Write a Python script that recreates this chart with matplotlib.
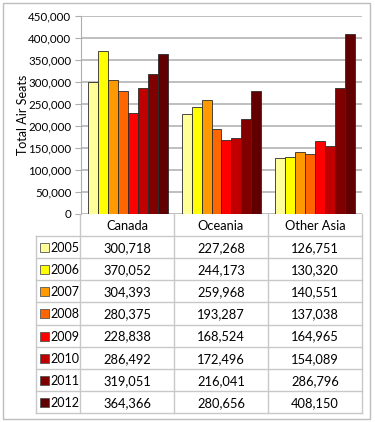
import matplotlib.pyplot as plt
from matplotlib.patches import Rectangle
import numpy as np

regions = ['Canada', 'Oceania', 'Other Asia']
years = ['2005', '2006', '2007', '2008', '2009', '2010', '2011', '2012']
seats = {
    '2005': [300718, 227268, 126751],
    '2006': [370052, 244173, 130320],
    '2007': [304393, 259968, 140551],
    '2008': [280375, 193287, 137038],
    '2009': [228838, 168524, 164965],
    '2010': [286492, 172496, 154089],
    '2011': [319051, 216041, 286796],
    '2012': [364366, 280656, 408150],
}
colors = ['#FFFF99', '#FFFF00', '#FF9900', '#FF6600',
          '#FF0000', '#C00000', '#800000', '#600000']
yticks = list(range(0, 450001, 50000))

plt.rcParams['font.family'] = ['Lato', 'DejaVu Sans']

W, H = 375, 422
fig = plt.figure(figsize=(W / 100, H / 100), dpi=100)

# pixel layout
left, right, top, bottom = 81, 362, 16, 214
tab_left, tab_bottom = 36, 413
grid_c = '#C8C8C8'

ax = fig.add_axes([left / W, 1 - bottom / H, (right - left) / W, (bottom - top) / H])
x = np.arange(len(regions))
bw = 0.85 / len(years)
for i, y in enumerate(years):
    ax.bar(x - 0.425 + bw * (i + 0.5), seats[y], bw, color=colors[i],
           edgecolor='#2b2b2b', linewidth=0.6, zorder=3)
ax.set_xlim(-0.5, 2.5)
ax.set_ylim(0, 450000)
ax.set_yticks(yticks)
ax.set_yticklabels([f'{v:,}' for v in yticks], fontsize=8.3)
ax.set_xticks([])
ax.yaxis.grid(True, color='#ADADAD', linewidth=1.1, zorder=0)
ax.tick_params(axis='y', length=4, color='#ADADAD', pad=3)
for s in ['top', 'right', 'bottom']:
    ax.spines[s].set_visible(False)
ax.spines['left'].set_color('#ADADAD')
ax.set_ylabel('Total Air Seats', fontsize=9)
ax.yaxis.set_label_coords((29 - left) / (right - left), 0.5)

# data table
tax = fig.add_axes([tab_left / W, 1 - tab_bottom / H,
                    (right - tab_left) / W, (tab_bottom - bottom) / H])
tax.set_xlim(tab_left, right)
tax.set_ylim(tab_bottom, bottom)
tax.axis('off')
col_edges = np.linspace(left - 1, right, len(regions) + 1)
row_edges = np.linspace(236, tab_bottom, len(years) + 1)
for cx in col_edges:
    tax.plot([cx, cx], [bottom, tab_bottom], color=grid_c, lw=1, clip_on=False)
tax.plot([tab_left, tab_left], [row_edges[0], tab_bottom], color=grid_c, lw=1, clip_on=False)
for ry in row_edges:
    tax.plot([tab_left, right], [ry, ry], color=grid_c, lw=1, clip_on=False)
for j, r in enumerate(regions):
    tax.text((col_edges[j] + col_edges[j + 1]) / 2, (bottom + row_edges[0]) / 2 + 1, r,
             ha='center', va='center', fontsize=9.3)
for i, y in enumerate(years):
    cy = (row_edges[i] + row_edges[i + 1]) / 2 + 1
    tax.add_patch(Rectangle((39.5, cy - 5), 9, 9, facecolor=colors[i],
                            edgecolor='#555555', lw=0.6, clip_on=False))
    tax.text(50.5, cy, y, ha='left', va='center', fontsize=9)
    for j in range(len(regions)):
        tax.text((col_edges[j] + col_edges[j + 1]) / 2, cy, f'{seats[y][j]:,}',
                 ha='center', va='center', fontsize=9.3)

# outer chart border
fig.patches.append(Rectangle((3 / W, 1 - 419 / H), 367 / W, 416 / H, transform=fig.transFigure,
                             fill=False, edgecolor='#BDBDBD', lw=1))

fig.savefig('out.png', dpi=100)
